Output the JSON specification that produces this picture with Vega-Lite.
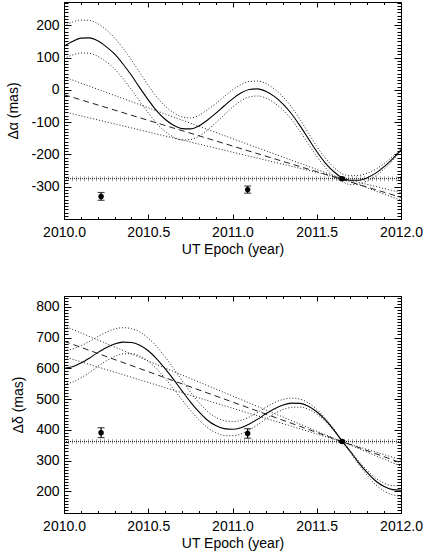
{
  "$schema": "https://vega.github.io/schema/vega-lite/v6.json",
  "background": "white",
  "padding": {"left": 6, "top": 1, "right": 4, "bottom": 4},
  "spacing": 38,
  "config": {
    "view": {"stroke": "black", "strokeWidth": 1},
    "font": "Liberation Sans",
    "axis": {"labelFont": "Liberation Sans", "titleFont": "Liberation Sans", "labelColor": "black", "titleColor": "black", "labelFontSize": 14, "titleFontSize": 14, "titleFontWeight": "normal", "grid": false, "domain": false, "tickColor": "black", "tickWidth": 1, "labelFlush": false, "labelOverlap": false}
  },
  "datasets": {
    "topCurve": [
      {"t": 2010.00, "s": 135, "up": 198, "lo": 97},
      {"t": 2010.05, "s": 150, "up": 210, "lo": 108},
      {"t": 2010.10, "s": 160, "up": 216, "lo": 114},
      {"t": 2010.15, "s": 161, "up": 215, "lo": 113},
      {"t": 2010.20, "s": 152, "up": 205, "lo": 104},
      {"t": 2010.25, "s": 134, "up": 186, "lo": 87},
      {"t": 2010.30, "s": 111, "up": 161, "lo": 65},
      {"t": 2010.35, "s": 80, "up": 129, "lo": 35},
      {"t": 2010.40, "s": 45, "up": 93, "lo": 1},
      {"t": 2010.45, "s": 6, "up": 53, "lo": -36},
      {"t": 2010.50, "s": -31, "up": 14, "lo": -71},
      {"t": 2010.55, "s": -65, "up": -22, "lo": -104},
      {"t": 2010.60, "s": -91, "up": -50, "lo": -129},
      {"t": 2010.65, "s": -110, "up": -71, "lo": -146},
      {"t": 2010.70, "s": -120, "up": -84, "lo": -155},
      {"t": 2010.75, "s": -121, "up": -87, "lo": -154},
      {"t": 2010.80, "s": -112, "up": -79, "lo": -144},
      {"t": 2010.85, "s": -94, "up": -62, "lo": -125},
      {"t": 2010.90, "s": -73, "up": -43, "lo": -102},
      {"t": 2010.95, "s": -50, "up": -21, "lo": -78},
      {"t": 2011.00, "s": -28, "up": 0, "lo": -54},
      {"t": 2011.05, "s": -10, "up": 16, "lo": -34},
      {"t": 2011.10, "s": 1, "up": 26, "lo": -22},
      {"t": 2011.15, "s": 3, "up": 27, "lo": -19},
      {"t": 2011.20, "s": -5, "up": 19, "lo": -26},
      {"t": 2011.25, "s": -21, "up": 2, "lo": -41},
      {"t": 2011.30, "s": -44, "up": -22, "lo": -63},
      {"t": 2011.35, "s": -74, "up": -53, "lo": -92},
      {"t": 2011.40, "s": -111, "up": -91, "lo": -128},
      {"t": 2011.45, "s": -151, "up": -133, "lo": -167},
      {"t": 2011.50, "s": -191, "up": -175, "lo": -206},
      {"t": 2011.55, "s": -226, "up": -211, "lo": -240},
      {"t": 2011.60, "s": -253, "up": -239, "lo": -267},
      {"t": 2011.65, "s": -272, "up": -260, "lo": -284},
      {"t": 2011.70, "s": -280, "up": -266, "lo": -293},
      {"t": 2011.75, "s": -280, "up": -265, "lo": -292},
      {"t": 2011.80, "s": -272, "up": -258, "lo": -282},
      {"t": 2011.85, "s": -258, "up": -246, "lo": -267},
      {"t": 2011.90, "s": -238, "up": -228, "lo": -245},
      {"t": 2011.95, "s": -214, "up": -207, "lo": -219},
      {"t": 2012.00, "s": -186, "up": -182, "lo": -189}
    ],
    "botCurve": [
      {"t": 2010.00, "s": 600, "up": 657, "lo": 549},
      {"t": 2010.05, "s": 605, "up": 663, "lo": 555},
      {"t": 2010.10, "s": 617, "up": 673, "lo": 569},
      {"t": 2010.15, "s": 633, "up": 687, "lo": 586},
      {"t": 2010.20, "s": 651, "up": 703, "lo": 606},
      {"t": 2010.25, "s": 667, "up": 717, "lo": 624},
      {"t": 2010.30, "s": 679, "up": 728, "lo": 638},
      {"t": 2010.35, "s": 685, "up": 732, "lo": 647},
      {"t": 2010.40, "s": 684, "up": 729, "lo": 648},
      {"t": 2010.45, "s": 675, "up": 718, "lo": 640},
      {"t": 2010.50, "s": 657, "up": 698, "lo": 623},
      {"t": 2010.55, "s": 631, "up": 671, "lo": 598},
      {"t": 2010.60, "s": 599, "up": 637, "lo": 567},
      {"t": 2010.65, "s": 564, "up": 600, "lo": 533},
      {"t": 2010.70, "s": 527, "up": 561, "lo": 498},
      {"t": 2010.75, "s": 491, "up": 523, "lo": 464},
      {"t": 2010.80, "s": 459, "up": 489, "lo": 433},
      {"t": 2010.85, "s": 432, "up": 461, "lo": 408},
      {"t": 2010.90, "s": 414, "up": 441, "lo": 391},
      {"t": 2010.95, "s": 404, "up": 430, "lo": 382},
      {"t": 2011.00, "s": 402, "up": 427, "lo": 381},
      {"t": 2011.05, "s": 407, "up": 431, "lo": 387},
      {"t": 2011.10, "s": 419, "up": 442, "lo": 400},
      {"t": 2011.15, "s": 435, "up": 457, "lo": 417},
      {"t": 2011.20, "s": 453, "up": 474, "lo": 436},
      {"t": 2011.25, "s": 469, "up": 489, "lo": 453},
      {"t": 2011.30, "s": 481, "up": 499, "lo": 466},
      {"t": 2011.35, "s": 487, "up": 503, "lo": 473},
      {"t": 2011.40, "s": 486, "up": 500, "lo": 474},
      {"t": 2011.45, "s": 477, "up": 488, "lo": 467},
      {"t": 2011.50, "s": 459, "up": 467, "lo": 452},
      {"t": 2011.55, "s": 433, "up": 438, "lo": 428},
      {"t": 2011.60, "s": 401, "up": 404, "lo": 398},
      {"t": 2011.65, "s": 364, "up": 365, "lo": 363},
      {"t": 2011.70, "s": 329, "up": 332, "lo": 326},
      {"t": 2011.75, "s": 293, "up": 298, "lo": 287},
      {"t": 2011.80, "s": 261, "up": 268, "lo": 252},
      {"t": 2011.85, "s": 234, "up": 243, "lo": 222},
      {"t": 2011.90, "s": 216, "up": 227, "lo": 201},
      {"t": 2011.95, "s": 206, "up": 219, "lo": 189},
      {"t": 2012.00, "s": 204, "up": 219, "lo": 184}
    ],
    "topLines": [
      {"t": 2010, "v": -15, "k": "dash"}, {"t": 2012, "v": -333, "k": "dash"},
      {"t": 2010, "v": 40, "k": "dotA"}, {"t": 2012, "v": -342, "k": "dotA"},
      {"t": 2010, "v": -68, "k": "dotB"}, {"t": 2012, "v": -318, "k": "dotB"}
    ],
    "botLines": [
      {"t": 2010, "v": 688, "k": "dash"}, {"t": 2012, "v": 293, "k": "dash"},
      {"t": 2010, "v": 738, "k": "dotA"}, {"t": 2012, "v": 282, "k": "dotA"},
      {"t": 2010, "v": 638, "k": "dotB"}, {"t": 2012, "v": 303, "k": "dotB"}
    ],
    "topPts": [
      {"t": 2010.22, "v": -330, "lo": -342, "hi": -318},
      {"t": 2011.09, "v": -309, "lo": -320, "hi": -298},
      {"t": 2011.65, "v": -275, "lo": -278, "hi": -272}
    ],
    "botPts": [
      {"t": 2010.22, "v": 391, "lo": 375, "hi": 407},
      {"t": 2011.09, "v": 388, "lo": 373, "hi": 404},
      {"t": 2011.65, "v": 362, "lo": 359, "hi": 365}
    ],
    "topRef": [{"t0": 2010, "t1": 2012, "v": -275}],
    "botRef": [{"t0": 2010, "t1": 2012, "v": 362}]
  },
  "vconcat": [
    {
      "width": 337, "height": 217,
      "resolve": {"axis": {"x": "independent", "y": "independent"}},
      "layer": [
        {
          "data": {"name": "topRef"},
          "mark": {"type": "rule", "stroke": "#111", "strokeWidth": 1, "strokeDash": [1, 1]},
          "encoding": {
            "x": {"field": "t0", "type": "quantitative", "scale": {"domain": [2010, 2012], "nice": false, "zero": false},
                  "axis": {"orient": "bottom", "values": [2010, 2010.5, 2011, 2011.5, 2012], "format": ".1f", "ticks": false, "labelPadding": 6, "title": "UT Epoch (year)", "titlePadding": 3}},
            "x2": {"field": "t1"},
            "y": {"field": "v", "type": "quantitative", "scale": {"domain": [-400, 272], "nice": false, "zero": false},
                  "axis": {"orient": "left", "values": [-300, -200, -100, 0, 100, 200], "ticks": false, "labelPadding": 5, "title": "Δα (mas)", "titlePadding": 10, "labelExpr": "replace(datum.label, '−', '-')"}}
          }
        },
        {
          "data": {"name": "topRef"},
          "mark": {"type": "rule", "stroke": "#333", "strokeWidth": 5, "strokeDash": [1, 3], "opacity": 0.42},
          "encoding": {
            "x": {"field": "t0", "type": "quantitative", "scale": {"domain": [2010, 2012], "nice": false, "zero": false},
                  "axis": {"orient": "bottom", "values": [2010, 2010.5, 2011, 2011.5, 2012], "labels": false, "tickSize": -5, "title": null}},
            "x2": {"field": "t1"},
            "y": {"field": "v", "type": "quantitative", "scale": {"domain": [-400, 272], "nice": false, "zero": false},
                  "axis": {"orient": "left", "values": [-300, -200, -100, 0, 100, 200], "labels": false, "tickSize": -7, "title": null}}
          }
        },
        {
          "data": {"name": "topLines"},
          "transform": [{"filter": "datum.k != 'dash'"}],
          "mark": {"type": "line", "stroke": "#222", "strokeWidth": 1, "strokeDash": [1, 2]},
          "encoding": {
            "x": {"field": "t", "type": "quantitative", "scale": {"domain": [2010, 2012], "nice": false, "zero": false},
                  "axis": {"orient": "bottom", "tickCount": 20, "labels": false, "tickSize": -2.5, "title": null}},
            "y": {"field": "v", "type": "quantitative", "scale": {"domain": [-400, 272], "nice": false, "zero": false},
                  "axis": {"orient": "left", "tickCount": 67, "labels": false, "tickSize": -4, "title": null}},
            "detail": {"field": "k"}
          }
        },
        {
          "data": {"name": "topLines"},
          "transform": [{"filter": "datum.k == 'dash'"}],
          "mark": {"type": "line", "stroke": "#222", "strokeWidth": 1, "strokeDash": [6, 4]},
          "encoding": {
            "x": {"field": "t", "type": "quantitative", "scale": {"domain": [2010, 2012], "nice": false, "zero": false},
                  "axis": {"orient": "top", "values": [2010, 2010.5, 2011, 2011.5, 2012], "labels": false, "tickSize": -5, "title": null}},
            "y": {"field": "v", "type": "quantitative", "scale": {"domain": [-400, 272], "nice": false, "zero": false},
                  "axis": {"orient": "right", "values": [-300, -200, -100, 0, 100, 200], "labels": false, "tickSize": -7, "title": null}}
          }
        },
        {
          "data": {"name": "topCurve"},
          "transform": [{"fold": ["up", "lo"], "as": ["k", "val"]}],
          "mark": {"type": "line", "stroke": "#222", "strokeWidth": 1, "strokeDash": [1, 2], "interpolate": "monotone"},
          "encoding": {
            "x": {"field": "t", "type": "quantitative", "scale": {"domain": [2010, 2012], "nice": false, "zero": false},
                  "axis": {"orient": "top", "tickCount": 20, "labels": false, "tickSize": -2.5, "title": null}},
            "y": {"field": "val", "type": "quantitative", "scale": {"domain": [-400, 272], "nice": false, "zero": false},
                  "axis": {"orient": "right", "tickCount": 67, "labels": false, "tickSize": -4, "title": null}},
            "detail": {"field": "k"}
          }
        },
        {
          "data": {"name": "topCurve"},
          "mark": {"type": "line", "stroke": "black", "strokeWidth": 1.1, "interpolate": "monotone"},
          "encoding": {
            "x": {"field": "t", "type": "quantitative", "axis": null},
            "y": {"field": "s", "type": "quantitative", "axis": null}
          }
        },
        {
          "data": {"name": "topPts"},
          "mark": {"type": "rule", "stroke": "black", "strokeWidth": 1.2},
          "encoding": {
            "x": {"field": "t", "type": "quantitative", "axis": null},
            "y": {"field": "lo", "type": "quantitative", "axis": null},
            "y2": {"field": "hi"}
          }
        },
        {
          "data": {"name": "topPts"},
          "mark": {"type": "tick", "orient": "horizontal", "color": "black", "size": 7, "thickness": 1.2},
          "encoding": {
            "x": {"field": "t", "type": "quantitative", "axis": null},
            "y": {"field": "lo", "type": "quantitative", "axis": null}
          }
        },
        {
          "data": {"name": "topPts"},
          "mark": {"type": "tick", "orient": "horizontal", "color": "black", "size": 7, "thickness": 1.2},
          "encoding": {
            "x": {"field": "t", "type": "quantitative", "axis": null},
            "y": {"field": "hi", "type": "quantitative", "axis": null}
          }
        },
        {
          "data": {"name": "topPts"},
          "mark": {"type": "point", "shape": "circle", "filled": true, "color": "black", "size": 30, "opacity": 1},
          "encoding": {
            "x": {"field": "t", "type": "quantitative", "axis": null},
            "y": {"field": "v", "type": "quantitative", "axis": null}
          }
        }
      ]
    },
    {
      "width": 337, "height": 217,
      "resolve": {"axis": {"x": "independent", "y": "independent"}},
      "layer": [
        {
          "data": {"name": "botRef"},
          "mark": {"type": "rule", "stroke": "#111", "strokeWidth": 1, "strokeDash": [1, 1]},
          "encoding": {
            "x": {"field": "t0", "type": "quantitative", "scale": {"domain": [2010, 2012], "nice": false, "zero": false},
                  "axis": {"orient": "bottom", "values": [2010, 2010.5, 2011, 2011.5, 2012], "format": ".1f", "ticks": false, "labelPadding": 6, "title": "UT Epoch (year)", "titlePadding": 3}},
            "x2": {"field": "t1"},
            "y": {"field": "v", "type": "quantitative", "scale": {"domain": [130, 835], "nice": false, "zero": false},
                  "axis": {"orient": "left", "values": [200, 300, 400, 500, 600, 700, 800], "ticks": false, "labelPadding": 5, "title": "Δδ (mas)", "titlePadding": 10}}
          }
        },
        {
          "data": {"name": "botRef"},
          "mark": {"type": "rule", "stroke": "#333", "strokeWidth": 5, "strokeDash": [1, 3], "opacity": 0.42},
          "encoding": {
            "x": {"field": "t0", "type": "quantitative", "scale": {"domain": [2010, 2012], "nice": false, "zero": false},
                  "axis": {"orient": "bottom", "values": [2010, 2010.5, 2011, 2011.5, 2012], "labels": false, "tickSize": -5, "title": null}},
            "x2": {"field": "t1"},
            "y": {"field": "v", "type": "quantitative", "scale": {"domain": [130, 835], "nice": false, "zero": false},
                  "axis": {"orient": "left", "values": [200, 300, 400, 500, 600, 700, 800], "labels": false, "tickSize": -7, "title": null}}
          }
        },
        {
          "data": {"name": "botLines"},
          "transform": [{"filter": "datum.k != 'dash'"}],
          "mark": {"type": "line", "stroke": "#222", "strokeWidth": 1, "strokeDash": [1, 2]},
          "encoding": {
            "x": {"field": "t", "type": "quantitative", "scale": {"domain": [2010, 2012], "nice": false, "zero": false},
                  "axis": {"orient": "bottom", "tickCount": 20, "labels": false, "tickSize": -2.5, "title": null}},
            "y": {"field": "v", "type": "quantitative", "scale": {"domain": [130, 835], "nice": false, "zero": false},
                  "axis": {"orient": "left", "tickCount": 70, "labels": false, "tickSize": -4, "title": null}},
            "detail": {"field": "k"}
          }
        },
        {
          "data": {"name": "botLines"},
          "transform": [{"filter": "datum.k == 'dash'"}],
          "mark": {"type": "line", "stroke": "#222", "strokeWidth": 1, "strokeDash": [6, 4]},
          "encoding": {
            "x": {"field": "t", "type": "quantitative", "scale": {"domain": [2010, 2012], "nice": false, "zero": false},
                  "axis": {"orient": "top", "values": [2010, 2010.5, 2011, 2011.5, 2012], "labels": false, "tickSize": -5, "title": null}},
            "y": {"field": "v", "type": "quantitative", "scale": {"domain": [130, 835], "nice": false, "zero": false},
                  "axis": {"orient": "right", "values": [200, 300, 400, 500, 600, 700, 800], "labels": false, "tickSize": -7, "title": null}}
          }
        },
        {
          "data": {"name": "botCurve"},
          "transform": [{"fold": ["up", "lo"], "as": ["k", "val"]}],
          "mark": {"type": "line", "stroke": "#222", "strokeWidth": 1, "strokeDash": [1, 2], "interpolate": "monotone"},
          "encoding": {
            "x": {"field": "t", "type": "quantitative", "scale": {"domain": [2010, 2012], "nice": false, "zero": false},
                  "axis": {"orient": "top", "tickCount": 20, "labels": false, "tickSize": -2.5, "title": null}},
            "y": {"field": "val", "type": "quantitative", "scale": {"domain": [130, 835], "nice": false, "zero": false},
                  "axis": {"orient": "right", "tickCount": 70, "labels": false, "tickSize": -4, "title": null}},
            "detail": {"field": "k"}
          }
        },
        {
          "data": {"name": "botCurve"},
          "mark": {"type": "line", "stroke": "black", "strokeWidth": 1.1, "interpolate": "monotone"},
          "encoding": {
            "x": {"field": "t", "type": "quantitative", "axis": null},
            "y": {"field": "s", "type": "quantitative", "axis": null}
          }
        },
        {
          "data": {"name": "botPts"},
          "mark": {"type": "rule", "stroke": "black", "strokeWidth": 1.2},
          "encoding": {
            "x": {"field": "t", "type": "quantitative", "axis": null},
            "y": {"field": "lo", "type": "quantitative", "axis": null},
            "y2": {"field": "hi"}
          }
        },
        {
          "data": {"name": "botPts"},
          "mark": {"type": "tick", "orient": "horizontal", "color": "black", "size": 7, "thickness": 1.2},
          "encoding": {
            "x": {"field": "t", "type": "quantitative", "axis": null},
            "y": {"field": "lo", "type": "quantitative", "axis": null}
          }
        },
        {
          "data": {"name": "botPts"},
          "mark": {"type": "tick", "orient": "horizontal", "color": "black", "size": 7, "thickness": 1.2},
          "encoding": {
            "x": {"field": "t", "type": "quantitative", "axis": null},
            "y": {"field": "hi", "type": "quantitative", "axis": null}
          }
        },
        {
          "data": {"name": "botPts"},
          "mark": {"type": "point", "shape": "circle", "filled": true, "color": "black", "size": 30, "opacity": 1},
          "encoding": {
            "x": {"field": "t", "type": "quantitative", "axis": null},
            "y": {"field": "v", "type": "quantitative", "axis": null}
          }
        }
      ]
    }
  ]
}
